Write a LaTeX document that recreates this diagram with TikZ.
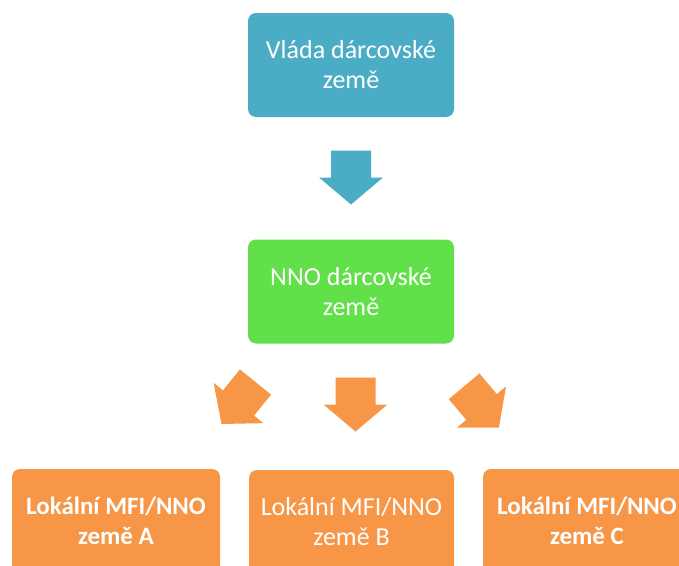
\documentclass[tikz,border=0pt]{standalone}
\usepackage{fontspec}
\setmainfont{Carlito}
\definecolor{cblue}{HTML}{4BACC6}
\definecolor{cgreen}{HTML}{62E04A}
\definecolor{corange}{HTML}{F79646}
\begin{document}
\begin{tikzpicture}[x=1pt,y=-1pt,
  box/.style={rounded corners=8pt,minimum width=206pt,minimum height=104pt,inner sep=0pt,text=white,align=center,font=\fontsize{26}{30}\selectfont},
  boldbox/.style={box,font=\fontsize{25}{30}\selectfont\bfseries},
  arrowshape/.pic={\fill[#1] (-20,-27) -- (20,-27) -- (20,0) -- (32,0) -- (0,27) -- (-32,0) -- (-20,0) -- cycle;}
]
\useasboundingbox (0,0) rectangle (679,565);
\node[box,fill=cblue] (gov) at (351,65) {Vláda dárcovské\\země};
\node[box,fill=cgreen] (nno) at (351,291.5) {NNO dárcovské\\země};
\begin{scope}
\clip (0,0) rectangle (679,565);
\node[boldbox,fill=corange,minimum width=208pt,text depth=0pt] (a) at (116,521) {Lokální MFI/NNO\\země A};
\node[box,fill=corange,minimum width=205pt] (b) at (351.5,522) {Lokální MFI/NNO\\země B};
\node[boldbox,fill=corange,minimum width=208pt] (c) at (587,521) {Lokální MFI/NNO\\země C};
\end{scope}
\coordinate (arr1) at (351,177.5);
\coordinate (arr2) at (355.5,404.5);
\coordinate (arr3) at (238.5,403);
\coordinate (arr4) at (481.5,407);
\pic at (arr1) {arrowshape=cblue};
\pic at (arr2) {arrowshape=corange};
\pic[rotate=-39] at (arr3) {arrowshape=corange};
\pic[rotate=40] at (arr4) {arrowshape=corange};
\end{tikzpicture}
\end{document}
